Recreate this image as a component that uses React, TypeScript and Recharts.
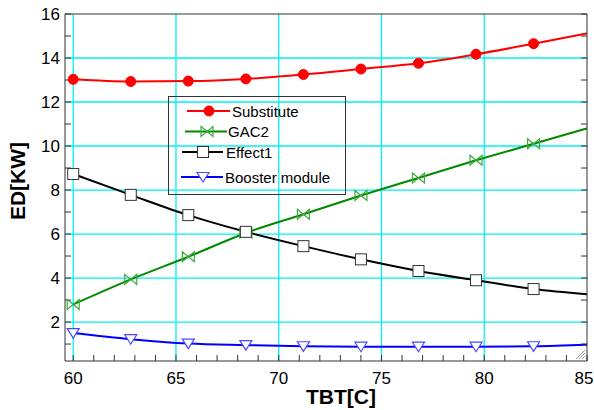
import { LineChart, Line, XAxis, YAxis, CartesianGrid } from "recharts"

const tbt = [60, 62.8, 65.6, 68.4, 71.2, 74, 76.8, 79.6, 82.4, 85]
const substitute = [13.03, 12.93, 12.95, 13.05, 13.25, 13.5, 13.76, 14.17, 14.65, 15.12]
const gac2 = [2.8, 3.94, 4.97, 6.05, 6.9, 7.75, 8.55, 9.35, 10.1, 10.8]
const effect1 = [8.73, 7.78, 6.86, 6.1, 5.45, 4.85, 4.32, 3.9, 3.5, 3.26]
const booster = [1.5, 1.22, 1.02, 0.95, 0.9, 0.88, 0.88, 0.88, 0.9, 0.97]

const xTicks = [60, 61, 62, 63, 64, 65, 66, 67, 68, 69, 70, 71, 72, 73, 74, 75, 76, 77, 78, 79, 80, 81, 82, 83, 84, 85]
const yTicks = [1, 2, 3, 4, 5, 6, 7, 8, 9, 10, 11, 12, 13, 14, 15, 16]
const xGrid = [60, 65, 70, 75, 80]
const yGrid = [2, 4, 6, 8, 10, 12, 14]

const data = tbt.map((t, i) => ({
  tbt: t,
  substitute: substitute[i],
  gac2: gac2[i],
  effect1: effect1[i],
  booster: booster[i],
}))

const FONT = "Arial, 'Liberation Sans', sans-serif"
const FRAME = "#333"
const X_DOMAIN = [59.6, 85]
const Y_DOMAIN = [0.23, 16]
const blank = () => ""

type Kind = "circle" | "bowtie" | "square" | "triangle"

const Marker = ({ kind, x, y }: { kind: Kind; x: number; y: number }) => {
  if (kind === "circle") return <circle cx={x} cy={y} r={5} fill="#ff0000" stroke="#ff0000" />
  if (kind === "bowtie")
    return (
      <path
        d={`M${x - 6},${y - 5} L${x + 6},${y + 5} L${x + 6},${y - 5} L${x - 6},${y + 5} Z`}
        fill="none"
        stroke="#3caa3c"
        strokeWidth={1.2}
      />
    )
  if (kind === "square")
    return <rect x={x - 5.5} y={y - 5.5} width={11} height={11} fill="#fff" stroke="#333" strokeWidth={1} />
  return (
    <path
      d={`M${x - 6},${y - 4.5} L${x + 6},${y - 4.5} L${x},${y + 5} Z`}
      fill="#fff"
      stroke="#4848ff"
      strokeWidth={1.2}
    />
  )
}

const makeDot = (kind: Kind) => (props: any) => {
  const { cx, cy, index } = props
  if (index === tbt.length - 1) return <g key={`d${index}`} />
  return <Marker key={`d${index}`} kind={kind} x={cx} y={cy} />
}

// x labels only on multiples of 5; the last one nudged so it stays inside the page
const XTick = (props: any) => {
  const { x, y, payload } = props
  const v = payload.value as number
  if (v % 5 !== 0) return <g />
  return (
    <text x={v === 85 ? x - 3 : x} y={y} dy="0.71em" textAnchor="middle" fontSize={17} fontFamily={FONT} fill="#000">
      {v}
    </text>
  )
}

const series = [
  { key: "substitute", name: "Substitute", color: "#ff0000", kind: "circle" as Kind },
  { key: "gac2", name: "GAC2", color: "#008a00", kind: "bowtie" as Kind },
  { key: "effect1", name: "Effect1", color: "#000000", kind: "square" as Kind },
  { key: "booster", name: "Booster module", color: "#0000ff", kind: "triangle" as Kind },
]

const legendRows = [
  { y: 111, x1: 187, x2: 230, mx: 209, tx: 232 },
  { y: 131.5, x1: 185, x2: 227, mx: 207, tx: 228 },
  { y: 152, x1: 182, x2: 223, mx: 203, tx: 226 },
  { y: 177, x1: 181, x2: 223, mx: 203, tx: 225 },
]

// negative tick size -> tick marks point into the plot, like the original
const frame = { tickSize: -6, tickLine: { stroke: FRAME }, axisLine: { stroke: FRAME }, interval: 0 as const, allowDataOverflow: true }

export default function App() {
  return (
    <div style={{ position: "absolute", left: 0, top: 0, width: 594, height: 410, background: "#fff", fontFamily: FONT }}>
      <LineChart width={594} height={410} data={data} margin={{ top: 13, right: 6, left: 5, bottom: 19 }}>
        <CartesianGrid
          xAxisId="x"
          yAxisId="y"
          stroke="#00f2f2"
          strokeWidth={1.3}
          horizontalValues={yGrid}
          verticalValues={xGrid}
        />
        <XAxis
          xAxisId="x"
          dataKey="tbt"
          type="number"
          domain={X_DOMAIN}
          ticks={xTicks}
          height={30}
          tickMargin={17}
          tick={<XTick />}
          {...frame}
        />
        <XAxis xAxisId="xt" type="number" domain={X_DOMAIN} ticks={xTicks} orientation="top" height={1} tickFormatter={blank} {...frame} />
        <YAxis
          yAxisId="y"
          type="number"
          domain={Y_DOMAIN}
          ticks={yTicks}
          width={60}
          tickMargin={11}
          tick={{ fontSize: 17, fill: "#000", fontFamily: FONT }}
          tickFormatter={(v: number) => (v % 2 === 0 ? String(v) : "")}
          {...frame}
        />
        <YAxis yAxisId="yr" type="number" domain={Y_DOMAIN} ticks={yTicks} orientation="right" width={1} tickFormatter={blank} {...frame} />
        {series.map((s) => (
          <Line
            key={s.key}
            xAxisId="x"
            yAxisId="y"
            dataKey={s.key}
            name={s.name}
            type="monotone"
            stroke={s.color}
            strokeWidth={2}
            dot={makeDot(s.kind)}
            activeDot={false}
            isAnimationActive={false}
          />
        ))}
      </LineChart>
      <svg width={594} height={410} style={{ position: "absolute", left: 0, top: 0, pointerEvents: "none" }}>
        <rect x={168.5} y={96.5} width={177} height={98} fill="none" stroke="#333" strokeWidth={1} />
        {series.map((s, i) => {
          const r = legendRows[i]
          return (
            <g key={s.key}>
              <line x1={r.x1} y1={r.y} x2={r.x2} y2={r.y} stroke={s.color} strokeWidth={2} />
              <Marker kind={s.kind} x={r.mx} y={r.y} />
              <text x={r.tx} y={r.y} dominantBaseline="central" fontSize={15} fontFamily={FONT} fill="#000">
                {s.name}
              </text>
            </g>
          )
        })}
        <text x={341} y={396} textAnchor="middle" dominantBaseline="central" fontSize={21} fontWeight="bold" fontFamily={FONT}>
          TBT[C]
        </text>
        <text
          x={17}
          y={181}
          textAnchor="middle"
          dominantBaseline="central"
          fontSize={21}
          fontWeight="bold"
          fontFamily={FONT}
          transform="rotate(-90 17 181)"
        >
          ED[KW]
        </text>
        <g stroke="#999" strokeWidth={1}>
          <line x1={576} y1={359} x2={585} y2={350} />
          <line x1={579} y1={359} x2={585} y2={353} />
          <line x1={582} y1={359} x2={585} y2={356} />
        </g>
      </svg>
    </div>
  )
}
